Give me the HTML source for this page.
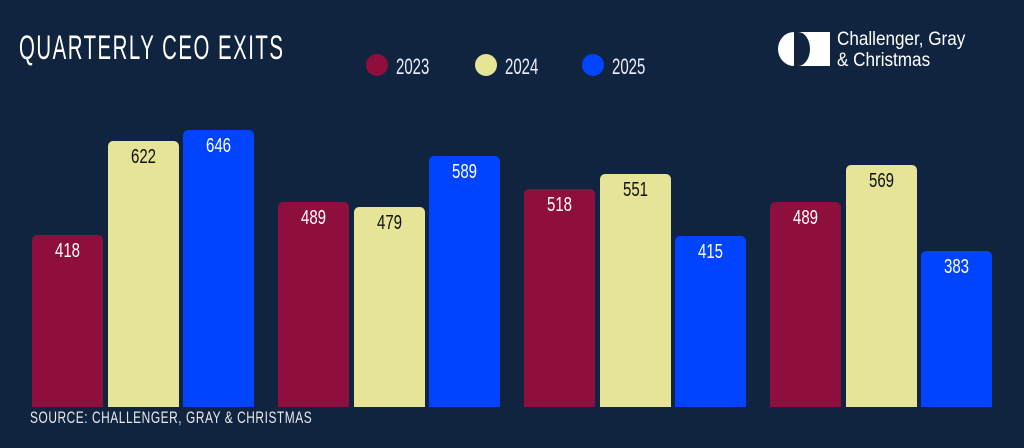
<!DOCTYPE html>
<html><head><meta charset="utf-8"><style>
body{margin:0;width:1024px;height:448px;background:#10243f;position:relative;overflow:hidden;font-family:"Liberation Sans",sans-serif}
.t{position:absolute;white-space:nowrap;transform-origin:0 0}
.bar{position:absolute;border-radius:5px 5px 0 0;box-sizing:border-box}
.lab{position:absolute;left:0;right:0;text-align:center;font-size:20px;transform:scaleX(0.75);top:5px}
.dot{position:absolute;width:22px;height:22px;border-radius:50%}
</style></head><body>
<div class="t" style="left:19px;top:29px;font-size:34px;color:#fff;transform:scaleX(0.6);letter-spacing:2.5px">QUARTERLY CEO EXITS</div>
<div class="dot" style="left:366px;top:54px;background:#8e0e3e"></div>
<div class="t" style="left:396px;top:54px;font-size:22px;color:#eef;transform:scaleX(0.68)">2023</div>
<div class="dot" style="left:475px;top:54px;background:#e6e496"></div>
<div class="t" style="left:505px;top:54px;font-size:22px;color:#eef;transform:scaleX(0.68)">2024</div>
<div class="dot" style="left:582px;top:54px;background:#0044ff"></div>
<div class="t" style="left:612px;top:54px;font-size:22px;color:#eef;transform:scaleX(0.68)">2025</div>
<svg style="position:absolute;left:776px;top:31px" width="55" height="36"><path d="M18 1 A16 17 0 0 0 18 35 Z" fill="#fff"/><path d="M22 1 H54 V35 H22 A12 17 0 0 0 22 1 Z" fill="#fff"/></svg>
<div class="t" style="left:837px;top:29px;font-size:19px;color:#fff;transform:scaleX(0.9);line-height:21px">Challenger, Gray<br>&amp; Christmas</div>
<div class="t" style="left:30px;top:408px;font-size:17px;color:#e8e8ee;transform:scaleX(0.7);letter-spacing:0.8px">SOURCE: CHALLENGER, GRAY &amp; CHRISTMAS</div>
<div id="bars"></div>
<script>
var d=[[418,622,646],[489,479,589],[518,551,415],[489,569,383]];
var gx=[32,278,524,770],c=['#8e0e3e','#e6e496','#0044ff'],tc=['#fff','#111','#fff'];
var h='';
d.forEach(function(g,i){g.forEach(function(v,j){var top=Math.round(426-v*0.458);var x=gx[i]+j*75.5;
h+='<div class="bar" style="left:'+x+'px;width:71px;top:'+top+'px;height:'+(407-top)+'px;background:'+c[j]+'"><div class="lab" style="color:'+tc[j]+'">'+v+'</div></div>';});});
document.getElementById('bars').innerHTML=h;
</script>
</body></html>
